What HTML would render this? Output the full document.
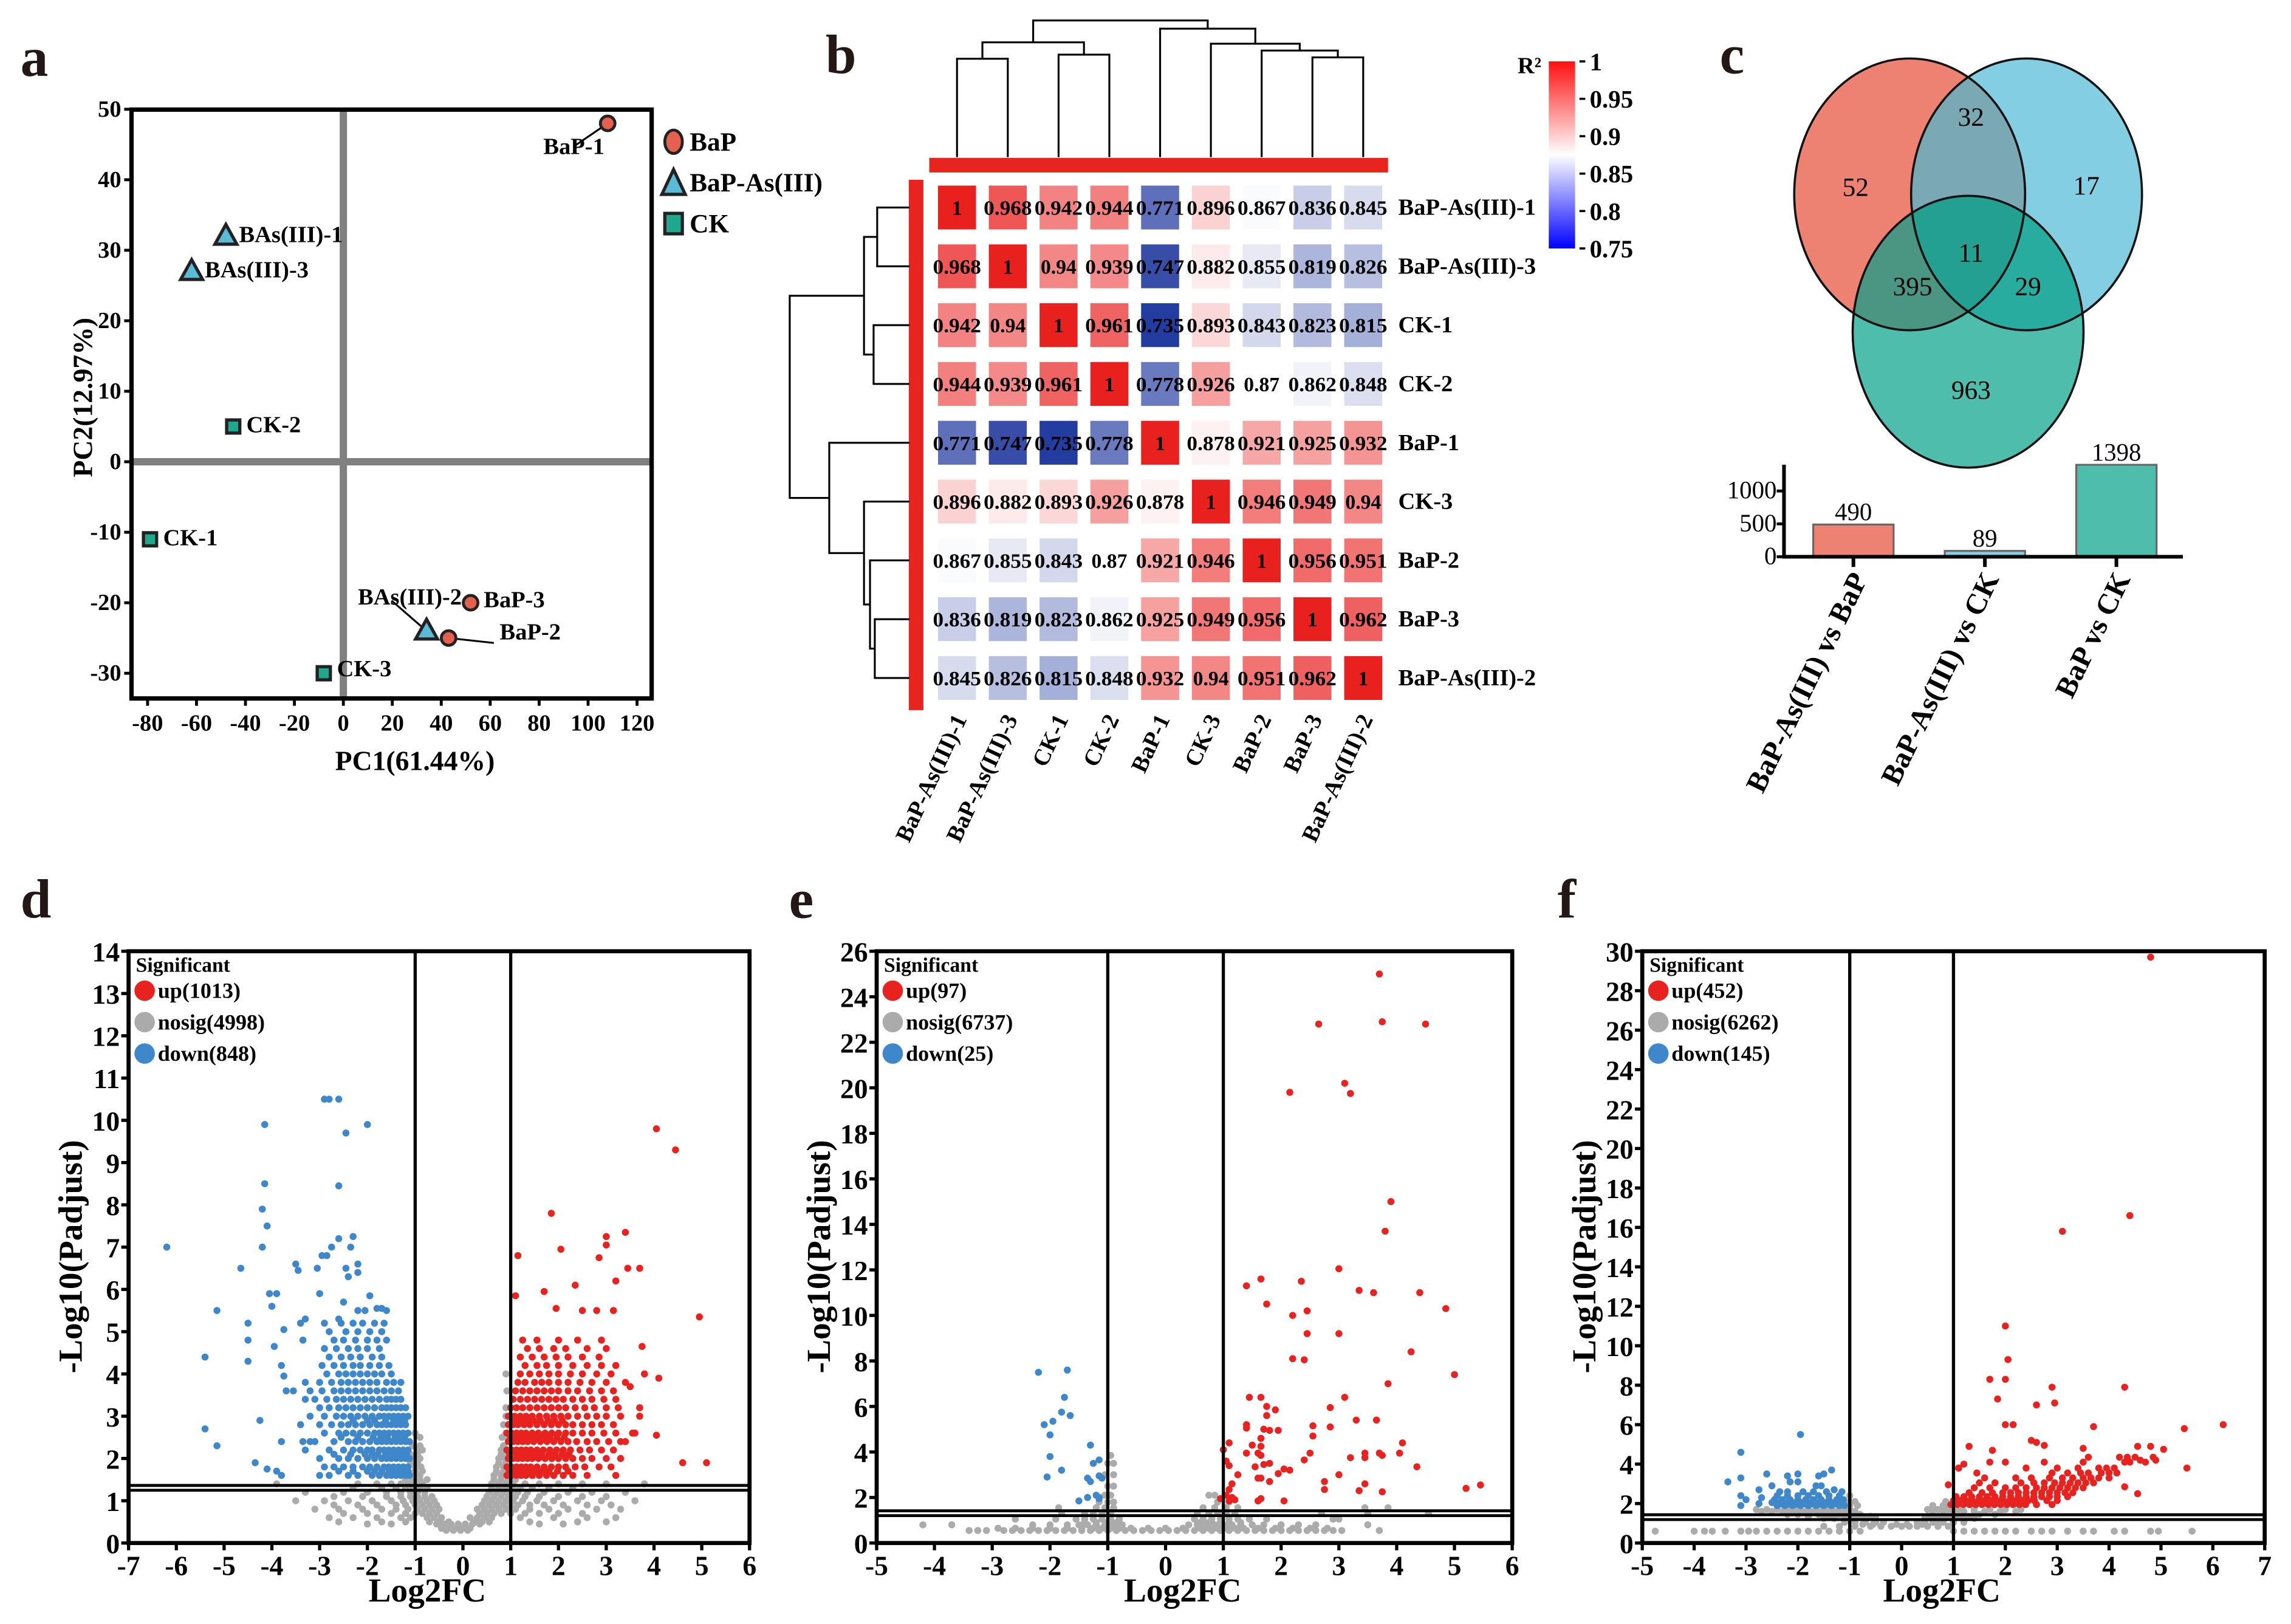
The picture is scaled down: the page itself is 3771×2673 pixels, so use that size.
<!DOCTYPE html>
<html><head><meta charset="utf-8">
<style>
html,body{margin:0;padding:0;background:#fff;}
svg{display:block;font-family:"Liberation Serif",serif;}
.b{font-weight:bold;}
</style></head>
<body>
<svg id="fig" xmlns="http://www.w3.org/2000/svg" width="3771" height="2673" viewBox="0 0 1568 1111.4">
<rect x="0" y="0" width="1568" height="1111.4" fill="#fff"/>
<text x="14" y="52" font-size="38" class="b" fill="#231815">a</text>
<text x="565" y="50" font-size="38" class="b" fill="#231815">b</text>
<text x="1177" y="50" font-size="38" class="b" fill="#231815">c</text>
<text x="14" y="628" font-size="38" class="b" fill="#231815">d</text>
<text x="540" y="628" font-size="38" class="b" fill="#231815">e</text>
<text x="1066" y="628" font-size="38" class="b" fill="#231815">f</text>
<g id="pa"></g>
<g id="pb"></g>
<g id="pc"></g>
<g id="pd"></g>
<g id="pe"></g>
<g id="pf"></g>
</svg>
<script>
// ===== Panel a data =====
const pcaNames = ['BaP-1','BAs(III)-1','BAs(III)-3','CK-2','CK-1','BAs(III)-2','BaP-3','BaP-2','CK-3'];
const pcaGroup = ['BaP','BaP-As','BaP-As','CK','CK','BaP-As','BaP','BaP','CK'];
const pcaPC1 = [108,-48,-62,-45,-79,34,52,43,-8];
const pcaPC2 = [48,32,27,5,-11,-24,-20,-25,-30];
const pcaXTicks = [-80,-60,-40,-20,0,20,40,60,80,100,120];
const pcaYTicks = [50,40,30,20,10,0,-10,-20,-30];
// ===== Panel b data =====
const hmLabels = ['BaP-As(III)-1','BaP-As(III)-3','CK-1','CK-2','BaP-1','CK-3','BaP-2','BaP-3','BaP-As(III)-2'];
const hmRow1 = [1,0.968,0.942,0.944,0.771,0.896,0.867,0.836,0.845];
const hmRow2 = [0.968,1,0.94,0.939,0.747,0.882,0.855,0.819,0.826];
const hmRow3 = [0.942,0.94,1,0.961,0.735,0.893,0.843,0.823,0.815];
const hmRow4 = [0.944,0.939,0.961,1,0.778,0.926,0.87,0.862,0.848];
const hmRow5 = [0.771,0.747,0.735,0.778,1,0.878,0.921,0.925,0.932];
const hmRow6 = [0.896,0.882,0.893,0.926,0.878,1,0.946,0.949,0.94];
const hmRow7 = [0.867,0.855,0.843,0.87,0.921,0.946,1,0.956,0.951];
const hmRow8 = [0.836,0.819,0.823,0.862,0.925,0.949,0.956,1,0.962];
const hmRow9 = [0.845,0.826,0.815,0.848,0.932,0.94,0.951,0.962,1];
const cbTicks = [1,0.95,0.9,0.85,0.8,0.75];
const dendroTop = [[0,1,0.28],[2,3,0.25],[9,10,0.16],[7,8,0.27],[6,12,0.22],[5,13,0.17],[4,14,0.06],[11,15,0]];
const dendroLeft = [[0,1,0.73],[2,3,0.70],[9,10,0.62],[7,8,0.71],[6,12,0.67],[5,13,0.62],[4,14,0.33],[11,15,0]];
// ===== Panel c data =====
const vennValues = ['52','32','17','11','395','29','963'];
const barCats = ['BaP-As(III) vs BaP','BaP-As(III) vs CK','BaP vs CK'];
const barVals = [490,89,1398];
const barTicks = [0,500,1000];
// ===== Volcano data: rows are [y, x1, x2, ...] =====
const dDownRows = [
[1.6,-3.0,-2.8,-2.4,-2.2,-1.9,-1.75,-1.6,-1.5,-1.4,-1.3,-1.2,-1.12],
[1.7,-2.6,-2.3,-2.0,-1.85,-1.7,-1.55,-1.45,-1.35,-1.25,-1.15],
[1.8,-2.9,-2.7,-2.5,-2.3,-2.1,-1.95,-1.8,-1.65,-1.55,-1.45,-1.35,-1.25,-1.15],
[2.0,-3.0,-2.6,-2.4,-2.2,-2.0,-1.85,-1.7,-1.6,-1.5,-1.4,-1.3,-1.2,-1.12],
[2.1,-2.7,-2.35,-2.05,-1.9,-1.78,-1.62,-1.48,-1.38,-1.28,-1.18],
[2.2,-2.8,-2.5,-2.3,-2.15,-2.0,-1.9,-1.75,-1.65,-1.55,-1.45,-1.35,-1.25,-1.15],
[2.4,-3.1,-2.7,-2.4,-2.25,-2.1,-1.95,-1.8,-1.7,-1.6,-1.5,-1.4,-1.3,-1.2,-1.12],
[2.5,-2.55,-2.2,-1.88,-1.72,-1.58,-1.42,-1.32,-1.22],
[2.6,-2.9,-2.6,-2.45,-2.3,-2.15,-2.0,-1.85,-1.75,-1.65,-1.55,-1.45,-1.35,-1.25,-1.15],
[2.8,-3.0,-2.75,-2.55,-2.4,-2.25,-2.1,-1.95,-1.8,-1.7,-1.6,-1.5,-1.4,-1.3,-1.2],
[2.9,-2.3,-2.0,-1.85,-1.62,-1.45,-1.32,-1.22],
[3.0,-3.2,-2.9,-2.65,-2.5,-2.35,-2.2,-2.05,-1.9,-1.75,-1.65,-1.55,-1.45,-1.35,-1.25,-1.15],
[3.2,-3.0,-2.8,-2.6,-2.45,-2.3,-2.15,-2.0,-1.85,-1.7,-1.6,-1.5,-1.4,-1.3,-1.2],
[3.4,-3.1,-2.85,-2.65,-2.5,-2.35,-2.2,-2.05,-1.9,-1.75,-1.6,-1.5,-1.4,-1.3],
[3.6,-3.2,-2.95,-2.7,-2.55,-2.4,-2.25,-2.1,-1.95,-1.8,-1.65,-1.5,-1.35],
[3.8,-3.0,-2.75,-2.55,-2.4,-2.25,-2.1,-1.95,-1.8,-1.6,-1.45,-1.3],
[4.0,-2.85,-2.6,-2.45,-2.3,-2.15,-2.0,-1.85,-1.7,-1.5],
[4.2,-2.95,-2.7,-2.5,-2.3,-2.15,-1.95,-1.75,-1.55],
[4.4,-2.8,-2.55,-2.35,-2.15,-1.9,-1.7],
[4.6,-2.9,-2.65,-2.4,-2.2,-2.0,-1.75],
[4.8,-2.7,-2.5,-2.25,-2.0,-1.8,-1.6],
[5.0,-2.8,-2.45,-2.2,-1.95,-1.7],
[5.2,-2.9,-2.55,-2.3,-2.1,-1.85]];
const dDownExtra = [[-6.2,7.0],[-5.4,4.4],[-5.4,2.7],[-5.15,2.3],[-5.15,5.5],[-4.65,6.5],[-4.5,5.2],[-4.5,4.8],[-4.5,4.3],[-4.35,1.9],[-4.15,9.9],[-4.15,8.5],[-4.2,7.9],[-4.1,7.5],[-4.2,7.0],[-4.05,5.9],[-3.9,5.9],[-4.0,5.6],[-3.95,4.65],[-3.75,5.05],[-3.8,4.2],[-3.75,3.95],[-3.7,3.6],[-3.55,3.6],[-4.1,1.75],[-3.9,1.7],[-3.8,1.6],[-3.8,2.4],[-4.25,2.9],[-3.5,6.6],[-3.45,6.45],[-3.4,5.2],[-3.3,5.3],[-3.35,4.8],[-3.3,3.8],[-3.3,3.4],[-3.4,2.8],[-3.35,2.4],[-3.3,2.2],[-3.2,2.4],[-3.05,6.5],[-3.0,5.9],[-2.95,6.8],[-2.85,6.8],[-2.75,7.0],[-2.6,7.2],[-2.3,7.25],[-2.35,7.0],[-2.9,10.5],[-2.8,10.5],[-2.6,10.5],[-2.0,9.9],[-2.45,9.7],[-2.6,8.45],[-2.45,6.5],[-2.2,6.6],[-2.2,6.4],[-2.4,6.3],[-1.8,5.55],[-1.7,5.55],[-1.6,5.5],[-2.2,5.5],[-2.05,5.5],[-2.5,5.7],[-2.6,5.3],[-1.95,5.85],[-1.65,5.2],[-1.7,5.0]];
const dUpRows = [
[1.6,0.92,1.02,1.12,1.22,1.32,1.45,1.6,1.75,1.9,2.1,2.3,2.6,3.2],
[1.7,0.97,1.07,1.17,1.27,1.38,1.52,1.66,1.8,1.98,2.2],
[1.8,0.92,1.02,1.12,1.22,1.32,1.42,1.55,1.7,1.85,2.0,2.15,2.35,2.55,2.85,3.1],
[2.0,0.95,1.05,1.15,1.25,1.35,1.45,1.58,1.72,1.86,2.0,2.15,2.3,2.5,2.7,3.0,3.3],
[2.1,0.98,1.1,1.2,1.3,1.4,1.52,1.65,1.8,1.93,2.08,2.22],
[2.2,0.92,1.02,1.12,1.22,1.32,1.42,1.55,1.68,1.82,1.96,2.1,2.25,2.45,2.65,2.9,3.15],
[2.4,0.95,1.05,1.15,1.25,1.35,1.48,1.62,1.76,1.9,2.05,2.2,2.38,2.6,2.8,3.05,3.4],
[2.5,1.0,1.1,1.2,1.3,1.42,1.55,1.68,1.82,1.97,2.12],
[2.6,0.92,1.02,1.12,1.22,1.32,1.45,1.58,1.72,1.86,2.0,2.15,2.3,2.5,2.7,2.95,3.2,3.6],
[2.8,0.95,1.05,1.15,1.28,1.4,1.55,1.7,1.85,2.0,2.15,2.3,2.5,2.7,2.9,3.15],
[2.9,1.1,1.22,1.35,1.48,1.62,1.78,1.92,2.08],
[3.0,0.95,1.08,1.2,1.32,1.45,1.6,1.75,1.9,2.05,2.2,2.4,2.6,2.8,3.0,3.3,3.7],
[3.2,1.0,1.12,1.25,1.4,1.55,1.7,1.85,2.0,2.15,2.35,2.55,2.75,3.0,3.25],
[3.4,1.05,1.2,1.35,1.5,1.65,1.8,1.95,2.1,2.3,2.5,2.7,2.95,3.2],
[3.6,1.1,1.25,1.4,1.55,1.7,1.85,2.0,2.2,2.4,2.65,2.9,3.15],
[3.8,1.15,1.3,1.5,1.65,1.8,2.0,2.2,2.45,2.7,3.0,3.4],
[4.0,1.2,1.4,1.6,1.8,2.0,2.25,2.5,2.8,3.1,3.8],
[4.2,1.3,1.55,1.75,2.0,2.3,2.6,2.9,3.2],
[4.4,1.2,1.45,1.7,1.95,2.2,2.5,2.85],
[4.6,1.35,1.6,1.9,2.15,2.6,3.0],
[4.8,1.25,1.55,2.0,2.4,2.9]];
const dUpExtra = [[4.05,9.8],[4.45,9.3],[1.85,7.8],[2.05,6.95],[3.0,7.25],[3.0,7.05],[3.4,7.35],[2.85,6.75],[1.15,6.8],[3.45,6.5],[3.7,6.5],[2.35,6.1],[3.2,6.2],[1.1,5.85],[1.7,5.95],[1.95,5.55],[2.5,5.5],[2.8,5.5],[3.15,5.5],[4.95,5.35],[3.75,4.65],[4.1,3.9],[4.05,2.55],[4.6,1.9],[5.1,1.9],[3.7,3.2],[3.8,4.0],[3.55,2.6],[3.3,2.4],[3.5,3.7]];
const dNsRows = [
[0.3,-0.35,-0.2,-0.05,0.1],
[0.35,-0.45,-0.3,-0.15,0.0,0.15],
[0.45,-0.55,-0.4,-0.25,-0.1,0.05,0.2,0.35,-1.5,-2.0,1.6,2.1],
[0.5,-0.7,-0.5,-0.3,0.25,0.4,0.55,-1.2,-1.7,-2.6,1.4,2.4,3.0],
[0.6,-0.75,-0.6,-0.45,0.15,0.3,0.45,0.6,-1.1,-1.3,-1.8,-2.3,-2.8,1.2,1.9,2.6,3.2],
[0.7,-0.85,-0.7,-0.55,0.35,0.5,0.65,0.8,-1.0,-1.2,-1.5,-2.0,-2.5,1.0,1.3,1.6,2.0,2.5],
[0.8,-0.95,-0.8,-0.65,-0.5,0.3,0.45,0.6,0.75,0.9,-1.15,-1.4,-1.7,-2.1,-2.6,-3.1,1.1,1.4,1.8,2.2,2.8,3.3],
[0.9,-1.0,-0.85,-0.7,-0.55,0.4,0.55,0.7,0.85,1.0,-1.2,-1.4,-1.8,-2.2,-2.7,1.15,1.4,1.7,2.1,2.6,3.1],
[1.0,-1.05,-0.9,-0.75,-0.6,0.45,0.6,0.75,0.9,1.05,-1.25,-1.5,-1.9,-2.4,-2.9,-3.5,1.25,1.55,1.9,2.4,2.9,3.6],
[1.1,-1.1,-0.95,-0.8,-0.65,0.5,0.65,0.8,0.95,1.1,-1.3,-1.6,-2.1,-2.7,1.3,1.6,2.0,2.5,3.0],
[1.2,-1.1,-0.95,-0.8,0.55,0.7,0.85,1.0,1.15,-1.3,-1.6,-2.0,-2.5,-3.3,1.35,1.7,2.2,2.7,3.4],
[1.3,-1.2,-1.05,-0.9,-0.75,0.6,0.75,0.9,1.05,1.2,-1.4,-1.7,-2.3,1.45,1.8,2.3],
[1.4,-1.15,-1.0,-0.85,0.6,0.75,0.9,1.05,-1.3,-1.5,-1.8,-2.2,-3.9,1.3,1.6,2.0,2.5,3.0,3.8],
[1.5,-1.2,-1.05,-0.9,-0.75,0.65,0.8,0.95,1.1],
[1.6,-1.05,-0.9,0.65,0.8,0.95,-1.6,-2.4,1.5,1.9],
[1.7,-1.15,-1.0,-0.85,0.7,0.85,0.95],
[1.8,-1.0,-0.88,0.7,0.85,-1.25],
[1.9,-1.1,-0.95,0.75,0.9],
[2.0,-1.0,-0.9,0.75,0.88],
[2.1,-1.1,-0.95,0.8,0.95],
[2.2,-0.95,-0.85,0.8,0.9],
[2.3,-1.05,-0.9,0.85],
[2.5,-0.9,0.82,0.92],
[2.6,-1.0,0.9],
[2.8,0.85],[3.0,0.9,0.95],[3.2,0.9],[3.6,0.92],[4.0,0.9]];
const eDown = [[-2.2,7.5],[-1.7,7.6],[-1.75,6.4],[-1.8,5.75],[-1.65,5.6],[-2.1,5.2],[-1.95,5.35],[-2.0,4.75],[-2.0,3.8],[-1.8,3.2],[-2.05,2.9],[-1.3,4.3],[-1.25,3.5],[-1.15,3.65],[-1.15,2.95],[-1.35,2.85],[-1.3,2.7],[-1.1,2.85],[-1.2,2.1],[-1.35,2.0],[-1.15,2.0],[-1.5,1.85],[-1.15,1.95]];
const eUp = [[3.7,25],[2.65,22.8],[3.75,22.9],[4.5,22.8],[2.15,19.8],[3.1,20.2],[3.2,19.75],[3.9,15],[3.8,13.7],[3.0,12.05],[1.4,11.3],[1.65,11.6],[2.35,11.5],[3.35,11.1],[3.6,11],[4.4,11],[1.75,10.5],[2.2,10.0],[2.45,10.2],[2.45,9.2],[3.0,9.2],[4.85,10.3],[2.2,8.1],[2.4,8.05],[4.25,8.4],[5.0,7.4],[3.85,7.0],[1.45,6.4],[1.65,6.4],[3.1,6.4],[1.75,6.0],[1.9,5.85],[2.85,5.95],[1.75,5.6],[1.4,5.2],[1.4,5.05],[2.55,5.15],[2.85,5.1],[3.3,5.4],[3.65,5.4],[1.8,4.95],[1.95,4.95],[1.7,5.0],[1.65,4.6],[2.55,4.7],[1.5,4.3],[1.65,4.25],[1.1,4.4],[1.0,4.1],[1.4,3.95],[1.6,3.95],[1.65,3.85],[2.5,3.95],[3.45,3.95],[3.7,3.95],[3.75,3.85],[4.1,4.4],[4.05,3.95],[2.4,3.65],[3.2,3.75],[3.45,3.75],[1.05,3.6],[1.55,3.35],[1.7,3.45],[1.8,3.5],[1.1,3.4],[4.35,3.35],[2.05,3.25],[2.15,3.2],[3.0,3.0],[1.95,3.05],[1.25,3.0],[1.6,2.85],[1.65,2.85],[1.8,2.7],[2.75,2.7],[3.45,2.6],[1.15,2.6],[1.1,2.35],[2.75,2.35],[3.35,2.3],[3.75,2.25],[5.2,2.4],[5.45,2.55],[1.15,2.0],[1.05,2.1],[0.95,1.95],[1.2,1.9],[1.6,1.85],[1.65,1.95],[2.05,1.85],[1.1,1.85]];
const eNsRows = [
[0.55,-3.4,-3.25,-3.1,-2.8,-2.65,-2.5,-2.35,-2.2,-2.05,-1.9,-1.75,-1.6,-1.45,-1.3,-1.15,-1.0,-0.85,-0.7,-0.55,-0.4,-0.25,-0.1,0.05,0.2,0.35,0.5,0.65,0.8,0.95,1.1,1.25,1.4,1.55,1.7,1.85,2.0,2.15,2.3,2.45,2.6,2.75,2.9,3.05,3.7],
[0.65,-2.9,-2.6,-2.3,-2.0,-1.7,-1.45,-1.25,-1.1,-0.95,-0.8,-0.6,-0.3,0.0,0.3,0.6,0.75,0.9,1.05,1.2,1.35,1.6,1.9,2.2,2.5,2.8],
[0.8,-4.2,-3.7,-2.3,-2.0,-1.7,-1.5,-1.35,-1.2,-1.05,-0.9,-0.75,0.4,0.55,0.7,0.85,1.0,1.15,1.3,1.5,1.7,2.0,2.3,2.6,3.5],
[0.9,-1.4,-1.2,-1.0,-0.85,0.6,0.75,0.95,1.1,1.3],
[1.05,-2.6,-1.9,-1.55,-1.4,-1.25,-1.1,-0.95,-0.8,0.5,0.65,0.8,0.95,1.1,1.25,1.45,1.75,2.9,3.0],
[1.3,-1.8,-1.4,-1.25,-1.1,-0.95,0.55,0.75,0.9,1.05,1.2,2.7,3.5,4.55],
[1.55,-1.85,-1.2,-1.05,-0.9,0.65,0.85,1.05,1.25,3.45,3.85],
[1.8,-1.15,-1.0,-0.9,0.9,1.1],
[2.1,-1.05,-0.95,0.75,0.85],
[2.5,-1.0,-0.9],[3.0,-1.05,-0.9],[3.5,-1.0,-0.9],[3.85,-0.95]];
const fDownRows = [
[1.9,-2.4,-2.25,-2.1,-1.95,-1.8,-1.65,-1.5,-1.35,-1.2,-1.1],
[1.98,-2.32,-2.17,-2.02,-1.87,-1.72,-1.57,-1.42,-1.27,-1.15],
[2.05,-2.5,-2.35,-2.2,-2.05,-1.9,-1.75,-1.6,-1.45,-1.3,-1.15],
[2.2,-2.45,-2.3,-2.15,-2.0,-1.85,-1.7,-1.55,-1.4,-1.25,-1.12],
[2.4,-2.4,-2.2,-2.0,-1.8,-1.6,-1.4,-1.2],
[2.6,-2.2,-1.9,-1.7,-1.45,-1.15]];
const fDownExtra = [[-1.95,5.5],[-3.1,4.6],[-3.1,3.3],[-3.35,3.1],[-2.6,3.5],[-3.1,2.4],[-3.0,2.2],[-3.1,1.9],[-2.75,2.7],[-2.2,3.4],[-2.0,3.5],[-1.6,3.4],[-1.35,3.7],[-2.15,3.1],[-2.0,3.1],[-1.65,2.9],[-1.55,2.9],[-1.3,2.7],[-2.5,2.9],[-2.35,2.6],[-2.7,2.3],[-2.75,2.0],[-1.5,3.5]];
const fUpRows = [
[1.95,0.95,1.07,1.19,1.31,1.43,1.55,1.67,1.79,1.91,2.03,2.15,2.27,2.39,2.6,2.9],
[2.05,1.02,1.14,1.26,1.38,1.5,1.62,1.74,1.86,1.98,2.1,2.22,2.34],
[2.15,1.0,1.12,1.24,1.36,1.48,1.6,1.72,1.84,1.96,2.08,2.2,2.32,2.44,2.56,2.8,3.0],
[2.35,1.05,1.2,1.35,1.5,1.65,1.8,1.95,2.1,2.25,2.4,2.55,2.7,2.85,3.0,3.2],
[2.55,1.3,1.55,1.75,1.95,2.1,2.25,2.4,2.55,2.7,2.85,3.0,3.15,3.3],
[2.8,1.4,1.7,2.0,2.2,2.4,2.6,2.75,2.9,3.05,3.2,3.35,3.5],
[3.05,1.5,1.8,2.3,2.55,2.75,2.95,3.1,3.25,3.4,3.55,3.7],
[3.3,1.6,2.2,2.5,2.85,3.1,3.3,3.5,3.65,3.8,4.0],
[3.55,1.45,2.9,3.2,3.45,3.6,3.85,4.0,4.15],
[3.8,1.1,2.4,3.0,3.4,3.8,3.95,4.1],
[4.1,1.7,2.0,2.75,3.5,4.3,4.4,4.7],
[4.35,3.6,4.2,4.35,4.5,4.85]];
const fUpExtra = [[4.8,29.7],[4.4,16.6],[3.1,15.8],[2.0,11.0],[2.05,9.3],[1.7,8.3],[2.0,8.3],[1.85,7.3],[2.9,7.9],[4.3,7.9],[2.95,7.1],[2.6,7.0],[2.0,6.0],[2.15,6.0],[3.7,5.9],[5.45,5.8],[6.2,6.0],[1.3,4.9],[1.75,4.7],[2.5,5.2],[2.6,5.1],[2.75,4.95],[3.5,4.8],[4.55,4.9],[4.8,4.9],[5.05,4.75],[4.6,4.2],[5.5,3.8],[4.9,4.2],[4.3,2.85],[4.55,2.5],[0.9,2.95],[1.1,3.8],[1.2,4.0]];
const fNsRows = [
[0.6,-4.75,-4.0,-3.8,-3.65,-3.4,-3.1,-2.95,-2.8,-2.6,-2.4,-2.2,-2.0,-1.8,-1.6,-1.4,-1.2,-1.0,-0.8,1.0,1.2,1.4,1.6,1.8,2.0,2.2,2.5,2.7,2.9,3.2,3.5,3.7,4.1,4.3,4.8,4.95,5.6],
[0.85,-0.6,-0.4,-0.2,0.0,0.15,0.3,0.5,0.7,0.9,-0.9,-1.2,-1.5],
[0.95,-0.75,-0.55,-0.1,0.1,0.4,0.7],
[1.05,-0.9,-0.7,-0.5,-0.35,0.3,0.45,0.6,0.8,1.0,-1.1,1.2],
[1.25,-1.5,-1.3,-1.1,-0.9,-0.7,-0.5,0.45,0.6,0.8,1.0,1.2,1.4],
[1.35,-1.8,-1.4,-1.0,-0.8,-0.6,0.5,0.7,0.9,1.1,1.3],
[1.45,-2.2,-2.0,-1.8,-1.6,-1.4,-1.2,-1.0,-0.8,0.6,0.8,1.0,1.2,1.5,1.8],
[1.6,-2.7,-2.5,-2.3,-2.1,-1.9,-1.7,-1.5,-1.3,-1.1,-0.9,0.6,0.8,1.0,1.2,1.4,1.6,1.9,2.2],
[1.7,-2.8,-2.6,-2.4,-2.2,-2.0,-1.8,-1.6,-1.4,-1.2,-1.0,0.5,0.7,0.9,1.1,1.4,1.7,2.0,2.3],
[1.9,-1.0,-0.85,0.6,0.8,0.9],
[2.1,-1.0,-0.9,0.85],[2.4,-1.0]];
const dLegend = ['up(1013)','nosig(4998)','down(848)'];
const eLegend = ['up(97)','nosig(6737)','down(25)'];
const fLegend = ['up(452)','nosig(6262)','down(145)'];

// ===== helpers =====
const NS = 'http://www.w3.org/2000/svg';
function el(tag, attrs, parent){const e=document.createElementNS(NS,tag);for(const k in attrs)e.setAttribute(k,attrs[k]);parent.appendChild(e);return e;}
function txt(s, attrs, parent){const e=el('text',attrs,parent);e.textContent=s;return e;}
function expand(rows){const out=[];rows.forEach(r=>{for(let i=1;i<r.length;i++)out.push([r[i],r[0]]);});return out;}

// ===== Panel a =====
(function(){
  const g=document.getElementById('pa');
  const X0=90,X1=446,Y0=75,Y1=478;
  const sx=v=>235+v*1.675, sy=v=>316-v*4.825;
  let r;
  r=el('line',{x1:sx(0),y1:Y0,x2:sx(0),y2:Y1,stroke:'#808080','stroke-width':5},g);
  
  
  r=el('line',{x1:X0,y1:sy(0),x2:X1,y2:sy(0),stroke:'#808080','stroke-width':5},g);
  
  
  r=el('rect',{x:X0,y:Y0,width:X1-X0,height:Y1-Y0,fill:'none',stroke:'#000','stroke-width':3},g);
  
  
  pcaXTicks.forEach(v=>{
    const l=el('line',{x1:sx(v),y1:Y1,x2:sx(v),y2:Y1+5,stroke:'#000','stroke-width':2},g);
    
    
    const t=txt(String(v),{x:sx(v),y:Y1+22,'font-size':16,'text-anchor':'middle',class:'b'},g);
    
    
  });
  pcaYTicks.forEach(v=>{
    const l=el('line',{x1:X0-5,y1:sy(v),x2:X0,y2:sy(v),stroke:'#000','stroke-width':2},g);
    
    
    const t=txt(String(v),{x:X0-7,y:sy(v)+5,'font-size':16,'text-anchor':'end',class:'b'},g);
    
    
  });
  let t=txt('PC1(61.44%)',{x:284,y:527,'font-size':19,'text-anchor':'middle',class:'b'},g);
  
  
  t=txt('PC2(12.97%)',{x:0,y:0,'font-size':19,'text-anchor':'middle',class:'b',transform:'translate(63,272) rotate(-90)'},g);
  
  
  const labelDx=[-44,9,9,9,9,-47,9,35,9], labelDy=[21,4,4,4,4,-18,3,1,2];
  [[0,393,100],[5,268,411],[7,338,440]].forEach(a=>{
    const i=a[0];
    const l=el('line',{x1:sx(pcaPC1[i]),y1:sy(pcaPC2[i]),x2:a[1],y2:a[2],stroke:'#000','stroke-width':1.3},g);
    
    
  });
  function marker(grp,x,y,parent){
    if(grp==='BaP') return el('circle',{cx:x,cy:y,r:5,fill:'#e5604e',stroke:'#222','stroke-width':2},parent);
    if(grp==='BaP-As') return el('polygon',{points:`${x},${y-8} ${x-7.5},${y+5.5} ${x+7.5},${y+5.5}`,fill:'#5bbad5',stroke:'#222','stroke-width':2.2},parent);
    return el('rect',{x:x-4.5,y:y-4.5,width:9,height:9,fill:'#1fa88e',stroke:'#222','stroke-width':2.2},parent);
  }
  pcaNames.forEach((n,i)=>{
    const x=sx(pcaPC1[i]), y=sy(pcaPC2[i]);
    const m=marker(pcaGroup[i],x,y,g);
    
    
    const tl=txt(n,{x:x+labelDx[i],y:y+labelDy[i],'font-size':16,class:'b'},g);
    
    
  });
  const legNames=['BaP','BaP-As(III)','CK'], legGrp=['BaP','BaP-As','CK'];
  legNames.forEach((n,i)=>{
    const y=97+i*28;
    let m;
    if(legGrp[i]==='BaP') m=el('ellipse',{cx:461,cy:y,rx:6,ry:8,fill:'#e5604e',stroke:'#222','stroke-width':2},g);
    else if(legGrp[i]==='BaP-As') m=el('polygon',{points:`461,${y-9} 453,${y+8} 469,${y+8}`,fill:'#5bbad5',stroke:'#222','stroke-width':2.2},g);
    else m=el('rect',{x:455,y:y-7,width:12,height:14,fill:'#1fa88e',stroke:'#222','stroke-width':2.2},g);
    
    
    const tl=txt(n,{x:472,y:y+6,'font-size':18,class:'b'},g);
    
    
  });
})();

// ===== Panel b =====
(function(){
  const g=document.getElementById('pb');
  const cx=i=>655+i*34.75, cy=j=>142+j*40.25;
  const rows=[hmRow1,hmRow2,hmRow3,hmRow4,hmRow5,hmRow6,hmRow7,hmRow8,hmRow9];
  function col(v){
    const red=[232,32,30], mid=[255,255,255], blue=[35,60,160];
    let b,t;
    if(v>=0.87){t=Math.min(1,(v-0.87)/0.13);b=red;}else{t=Math.min(1,(0.87-v)/0.135);b=blue;}
    const c=mid.map((x,k)=>Math.round(x+(b[k]-x)*t));
    return `rgb(${c[0]},${c[1]},${c[2]})`;
  }
  let r=el('rect',{x:636,y:108,width:314,height:10,fill:'#e8241f'},g);
  
  
  r=el('rect',{x:622,y:123,width:10,height:363,fill:'#e8241f'},g);
  
  
  rows.forEach((row,j)=>{
    row.forEach((v,i)=>{
      const c=el('rect',{x:cx(i)-13,y:cy(j)-15,width:26,height:30,fill:col(v)},g);
      
      
      const s=String(v);
      const t=txt(s,{x:cx(i),y:cy(j)+5,'font-size':14,'text-anchor':'middle',class:'b'},g);
      if(s.length===5){t.setAttribute('textLength','33');t.setAttribute('lengthAdjust','spacingAndGlyphs');}
      
      
    });
  });
  hmLabels.forEach((n,j)=>{
    const t=txt(n,{x:957,y:cy(j)+5,'font-size':16,class:'b'},g);
    
    
    const t2=txt(n,{x:0,y:0,'font-size':16,'text-anchor':'end',class:'b',transform:`translate(${cx(j)+7},${492}) rotate(-65)`},g);
    
    
  });
  function dendro(merges, leafPos, hPos, vertical, name){
    const pos={}, hh={};
    for(let i=0;i<9;i++){pos[i]=leafPos(i);hh[i]=1;}
    merges.forEach((m,k)=>{
      const id=9+k, a=m[0], b=m[1], h=m[2];
      const pa=pos[a], pb=pos[b], ha=hPos(hh[a]), hb=hPos(hh[b]), hm=hPos(h);
      const d = vertical ? `M${pa},${ha}V${hm}H${pb}V${hb}` : `M${ha},${pa}H${hm}V${pb}H${hb}`;
      const p=el('path',{d:d,fill:'none',stroke:'#000','stroke-width':1.3},g);
      
      
      pos[id]=(pa+pb)/2; hh[id]=h;
    });
  }
  dendro(dendroTop, cx, h=>14+h*93.5, true, 'column-dendrogram-branch');
  dendro(dendroLeft, cy, h=>540.5+h*82, false, 'row-dendrogram-branch');
  const defs=el('defs',{},g);
  const lg=el('linearGradient',{id:'cbg',x1:0,y1:0,x2:0,y2:1},defs);
  el('stop',{offset:'0','stop-color':'#ff1010'},lg);
  el('stop',{offset:'0.5','stop-color':'#ffffff'},lg);
  el('stop',{offset:'1','stop-color':'#0000ff'},lg);
  r=el('rect',{x:1060,y:42,width:18,height:128,fill:'url(#cbg)'},g);
  
  
  cbTicks.forEach(v=>{
    const y=42+(1-v)/0.25*128;
    const l=el('line',{x1:1081,y1:y,x2:1085,y2:y,stroke:'#000','stroke-width':1.5},g);
    
    
    const t=txt(String(v),{x:1088,y:y+6,'font-size':17,class:'b'},g);
    
    
  });
  let t=txt('R²',{x:1055,y:50,'font-size':16,'text-anchor':'end',class:'b'},g);
  
  
})();

// ===== Panel c =====
(function(){
  const g=document.getElementById('pc');
  const defs=el('defs',{},g);
  const E={red:[1307,133],blue:[1387,133],green:[1347,227]}, RX=79, RY=93;
  ['red','blue','green'].forEach(k=>{
    const cp=el('clipPath',{id:'clip-'+k},defs);
    el('ellipse',{cx:E[k][0],cy:E[k][1],rx:RX,ry:RY},cp);
  });
  function ell(k,fill,clip,name){
    const e=el('ellipse',{cx:E[k][0],cy:E[k][1],rx:RX,ry:RY,fill:fill},clip?el('g',{'clip-path':`url(#clip-${clip})`},g):g);
    
    
    return e;
  }
  ell('red','#ee8272',null,'venn-set-bap-as-vs-bap');
  ell('blue','#83cfe1',null,'venn-set-bap-as-vs-ck');
  ell('blue','#7aa9b4','red','venn-overlap-red-blue');
  ell('green','#4fbdab',null,'venn-set-bap-vs-ck');
  ell('green','#4a9682','red','venn-overlap-red-green');
  ell('green','#27ac9f','blue','venn-overlap-blue-green');
  const gg=el('g',{'clip-path':'url(#clip-red)'},g);
  const e3=el('ellipse',{cx:E.green[0],cy:E.green[1],rx:RX,ry:RY,fill:'#23a08f','clip-path':'url(#clip-blue)'},gg);
  
  
  ['red','blue','green'].forEach(k=>{
    const o=el('ellipse',{cx:E[k][0],cy:E[k][1],rx:RX,ry:RY,fill:'none',stroke:'#111','stroke-width':1.5},g);
    
    
  });
  const vPos=[[1270,134],[1349,86],[1428,133],[1349,179],[1309,202],[1388,202],[1349,273]];
  vennValues.forEach((v,i)=>{
    const t=txt(v,{x:vPos[i][0],y:vPos[i][1],'font-size':18,'text-anchor':'middle'},g);
    
    
  });
  const BY=381, sy=v=>BY-v*0.045, bx=i=>1268.5+i*90;
  barVals.forEach((v,i)=>{
    const fills=['#ee8272','#83cfe1','#4fbdab'];
    const r=el('rect',{x:bx(i)-27.5,y:sy(v),width:55,height:BY-sy(v),fill:fills[i],stroke:'#666','stroke-width':1.3},g);
    
    
    const t=txt(String(v),{x:bx(i),y:sy(v)-3,'font-size':17,'text-anchor':'middle'},g);
    
    
    const l=el('line',{x1:bx(i),y1:BY,x2:bx(i),y2:BY+7,stroke:'#000','stroke-width':2.5},g);
    
    
    const tl=txt(barCats[i],{x:0,y:0,'font-size':20,'text-anchor':'end',class:'b',transform:`translate(${bx(i)+10},${396}) rotate(-64)`},g);
    
    
  });
  let ax=el('path',{d:`M1221,318V${BY}H1494`,fill:'none',stroke:'#000','stroke-width':2.5},g);
  
  
  barTicks.forEach(v=>{
    const l=el('line',{x1:1216,y1:sy(v),x2:1221,y2:sy(v),stroke:'#000','stroke-width':2},g);
    
    
    const t=txt(String(v),{x:1216,y:sy(v)+5,'font-size':17,'text-anchor':'end'},g);
    
    
  });
})();

// ===== Volcano panels =====
function volcano(id, X0, X1, xmin, xmax, ymax, ystep, ns, down, up, legend){
  const g=document.getElementById(id);
  const Y0=651, Y1=1056;
  const sx=v=>X0+(v-xmin)/(xmax-xmin)*(X1-X0), sy=v=>Y1-v/ymax*(Y1-Y0);
  const groups=[[ns,'#ababab','nosig-point'],[down,'#3f87cb','down-point'],[up,'#e8231f','up-point']];
  groups.forEach(gr=>{
    gr[0].forEach(p=>{
      const c=el('circle',{cx:sx(p[0]),cy:sy(p[1]),r:2.4,fill:gr[1]},g);
      
      
    });
  });
  let l;
  [-1,1].forEach(v=>{
    l=el('line',{x1:sx(v),y1:Y0,x2:sx(v),y2:Y1,stroke:'#000','stroke-width':2.2},g);
    
    
  });
  l=el('line',{x1:X0,y1:sy(1.3)-1.8,x2:X1,y2:sy(1.3)-1.8,stroke:'#000','stroke-width':2},g);
  
  
  l=el('line',{x1:X0,y1:sy(1.3)+1.5,x2:X1,y2:sy(1.3)+1.5,stroke:'#000','stroke-width':2},g);
  
  
  const fr=el('rect',{x:X0,y:Y0,width:X1-X0,height:Y1-Y0,fill:'none',stroke:'#000','stroke-width':2.8},g);
  
  
  for(let v=xmin; v<=xmax; v++){
    const tk=el('line',{x1:sx(v),y1:Y1,x2:sx(v),y2:Y1+5,stroke:'#000','stroke-width':2.2},g);
    
    
    const t=txt(String(v),{x:sx(v),y:Y1+22,'font-size':19,'text-anchor':'middle',class:'b'},g);
    
    
  }
  for(let v=0; v<=ymax; v+=ystep){
    const tk=el('line',{x1:X0-5,y1:sy(v),x2:X0,y2:sy(v),stroke:'#000','stroke-width':2.2},g);
    
    
    const t=txt(String(v),{x:X0-6,y:sy(v)+7,'font-size':19,'text-anchor':'end',class:'b'},g);
    
    
  }
  let t=txt('Log2FC',{x:(X0+X1)/2-8,y:1096,'font-size':23,'text-anchor':'middle',class:'b'},g);
  
  
  t=txt('-Log10(Padjust)',{x:0,y:0,'font-size':23,'text-anchor':'middle',class:'b',transform:`translate(${X0-32},${860}) rotate(-90)`},g);
  
  
  t=txt('Significant',{x:X0+5,y:665,'font-size':14,class:'b'},g);
  
  
  const lc=['#e8231f','#ababab','#3f87cb'];
  legend.forEach((s,i)=>{
    const y=678+i*21.5;
    const c=el('circle',{cx:X0+11,cy:y,r:7,fill:lc[i]},g);
    
    
    const tl=txt(s,{x:X0+20,y:y+5,'font-size':15,class:'b'},g);
    
    
  });
}
volcano('pd',88,513,-7,6,14,1,expand(dNsRows),expand(dDownRows).concat(dDownExtra),expand(dUpRows).concat(dUpExtra),dLegend);
volcano('pe',600,1035,-5,6,26,2,expand(eNsRows),eDown,eUp,eLegend);
volcano('pf',1124,1550,-5,7,30,2,expand(fNsRows),expand(fDownRows).concat(fDownExtra),expand(fUpRows).concat(fUpExtra),fLegend);
</script>
</body></html>
